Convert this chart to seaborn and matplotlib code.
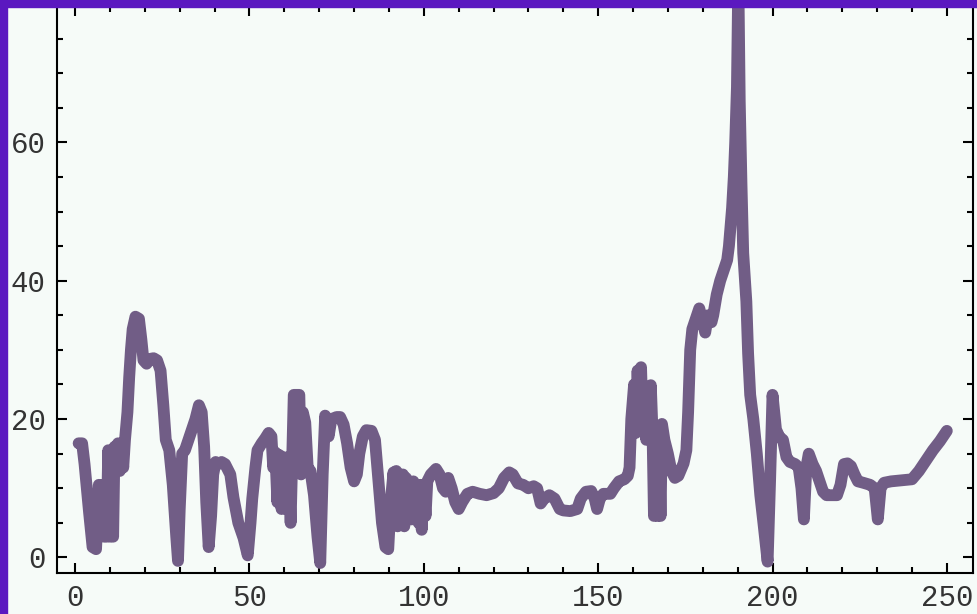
import pandas as pd
import matplotlib
matplotlib.use('Agg')
import matplotlib.pyplot as plt
import seaborn as sns
from matplotlib.patches import Rectangle
from matplotlib.ticker import MultipleLocator

# values
day = [1, 2, 2.7, 4, 5, 6, 6.8, 7.2, 7.8, 8.3, 9, 9.5, 10, 10.4, 10.9, 11.3, 11.8, 12.3,
       12.8, 13.3, 13.8, 14.3,
       15, 15.5, 16, 16.5, 17.3, 18.3, 19, 19.6, 20.5, 21.5, 22.5, 23.5, 24.5, 25.3,
       26, 27, 28, 29, 29.5, 30, 30.7, 31.5, 32.5, 33.5, 34.5, 35.5, 36.3, 37, 37.6, 38.3,
       39, 39.6, 40.3, 41, 42, 43, 44.5, 45.4, 46.8, 48.3, 49.5, 50.3, 50.8, 51.7, 52.3,
       53.5, 54.5, 55.5, 56.3, 56.8, 57.4, 58, 58.6, 59.2, 59.8, 60.5, 61.2, 61.8, 62.7,
       64.3, 64.8, 65.3, 66, 66.7, 67.5, 68.5, 69.5, 70.3, 71, 71.7, 72.7, 73.5, 75, 76,
       77, 78, 79, 80, 80.8, 81.5, 82.5, 83.5, 85, 86, 87, 88, 89, 89.8, 90.5, 91.3,
       91.7, 92.1, 92.5, 93, 93.5, 94, 94.4, 94.9, 95.4, 96, 96.5, 97, 97.5, 98, 98.5,
       99, 99.4, 100, 100.5, 101, 102, 103.5, 104.5,
       105.5, 106.3, 107, 108, 109, 110, 111, 112.5, 114, 116, 118, 120, 121.5, 123,
       124.5, 125.5, 127, 128.5, 130, 131.5, 132.5, 133.5, 134.5, 136, 137.5, 139, 140,
       142, 144, 145, 146.5, 148, 149, 149.7, 150.5, 151.5, 153.5, 154.5, 156, 157.5,
       158.5, 159, 159.5, 160.3, 160.8, 161.3, 161.8, 162.3, 162.8, 163.3, 163.8, 164.3,
       164.7, 165.1, 165.6, 166, 166.5, 167, 167.5, 167.9,
       168.3, 169, 170, 171, 172, 173, 174.5, 175.3, 175.8, 176.4, 177, 178, 179, 180,
       180.7, 181.5, 182.5, 183, 184, 185, 186, 187, 187.5, 188.4, 188.9, 189.3, 189.8,
       190.2, 190.6, 191.1, 191.6, 192.5, 193, 193.6, 194.5, 195.5, 196.5, 197.5, 198.6,
       199.3, 200, 201, 202, 203, 204, 205, 206.5, 207.5, 208.3, 209, 209.7, 210.4, 211.5,
       212.5, 213.5, 214.5, 215.5, 217, 218.5, 219.5, 220.5, 221.5, 222.5, 223.5, 224.5,
       226, 228, 229.3, 230.2, 231, 232, 234, 236, 238, 240, 242, 244, 246, 248, 250]

value = [16.5, 16.5, 13.5, 6.5, 1.5, 1.2, 10.5, 4, 10.5, 3, 3, 15.5, 3, 15, 3, 16, 12.5, 16.5,
         12.5, 16.5, 13, 17,
         21, 26, 30, 33, 34.8, 34.5, 31.5, 28.5, 28, 28.7, 28.8, 28.5, 27, 22,
         17, 15.5, 10.5, 3, -0.5, 7, 15, 15.5, 17, 18.5, 20, 22, 21, 16, 8, 1.5,
         6, 12, 13.8, 13.5, 13.8, 13.5, 12, 8.7, 5, 2.8, 0.3, 5, 8.5, 13, 15.5,
         16.5, 17.2, 18, 17.5, 13, 15.2, 8, 14.8, 7, 14.5, 7, 14.5, 5, 23.5,
         23.5, 12, 21, 19.5, 13, 12.5, 9, 3, -0.8, 12, 20.5, 17.5, 20, 20.3, 20.3,
         19.2, 16.5, 13, 11, 12, 15, 17.5, 18.4, 18.3, 17, 11, 5, 1.5, 1.2, 8, 12.3,
         5, 12.5, 4.5, 12, 5, 12, 4.5, 11.5, 6, 10.5, 5.5, 11, 6, 10.5, 5,
         10.5, 4, 10.5, 6, 11, 12, 12.8, 12,
         10, 9.5, 11.5, 10, 8, 7, 8, 9.2, 9.5, 9.2, 9, 9.3, 10, 11.5,
         12.3, 12, 10.7, 10.5, 10, 10.3, 10, 7.8, 8.5, 9, 8.5, 7, 6.8,
         6.7, 7, 8.5, 9.5, 9.6, 8.5, 7, 8.5, 9.2, 9.2, 10, 11, 11.3,
         11.8, 13, 20, 25, 18, 27, 20, 27.5, 19, 24, 17, 23,
         18, 24.9, 18, 6, 17, 6, 16, 6,
         19.3, 17, 15, 12.5, 11.5, 11.8, 13.6, 15.5, 21, 30, 33, 34.5, 36, 34,
         32.5, 35, 34, 35, 38, 40, 41.5, 43, 45, 50.5, 55, 60, 68,
         84, 66, 54, 44, 37, 29.5, 23.5, 20, 15, 9, 4.5, -0.6,
         11, 23.5, 18.5, 17.4, 17, 14.5, 13.8, 13.5, 13, 10, 5.5, 13, 15, 13.5,
         12.5, 11, 9.5, 9, 9, 9, 10.5, 13.5, 13.6, 13.2, 12, 11,
         10.8, 10.5, 10, 5.5, 10, 10.8, 11, 11.1, 11.2, 11.3, 12.5, 14, 15.5, 16.8, 18.3]

x_ticks = [0, 50, 100, 150, 200, 250]
y_ticks = [0, 20, 40, 60]

bg = '#f6fbf8'
line_col = '#715d86'
frame_col = '#5b18c0'

sns.set_theme(style='ticks')
plt.rcParams['font.family'] = ['Liberation Mono', 'DejaVu Sans']

fig = plt.figure(figsize=(9.77, 6.14), dpi=100, facecolor=bg)
ax = fig.add_axes([57 / 977, 1 - 572.7 / 614, (973 - 57) / 977, (572.7 - 6) / 614])
ax.set_facecolor(bg)

df = pd.DataFrame({'day': day, 'value': value})
sns.lineplot(data=df, x='day', y='value', ax=ax, color=line_col, linewidth=8.5,
             estimator=None, sort=False)

ax.set_xlim(-5.2, 257.5)
ax.set_ylim(-2.2, 79.7)
ax.set_xticks(x_ticks)
ax.set_yticks(y_ticks)
ax.xaxis.set_minor_locator(MultipleLocator(10))
ax.yaxis.set_minor_locator(MultipleLocator(5))
ax.tick_params(which='both', direction='in', top=True, right=True,
               color='black', width=1.5, labelsize=21, labelcolor='#333333')
ax.tick_params(which='major', length=7, pad=8)
ax.tick_params(which='minor', length=4.5)
ax.set_xlabel('')
ax.set_ylabel('')
for s in ax.spines.values():
    s.set_visible(True)
    s.set_color('black')
    s.set_linewidth(1.5)

# purple page edge along the left and top
fig.add_artist(Rectangle((0, 0), 7 / 977, 1, transform=fig.transFigure,
                         color=frame_col, zorder=10))
fig.add_artist(Rectangle((0, 1 - 7 / 614), 1, 7 / 614, transform=fig.transFigure,
                         color=frame_col, zorder=10))

fig.savefig('out.png', dpi=100, facecolor=bg)
